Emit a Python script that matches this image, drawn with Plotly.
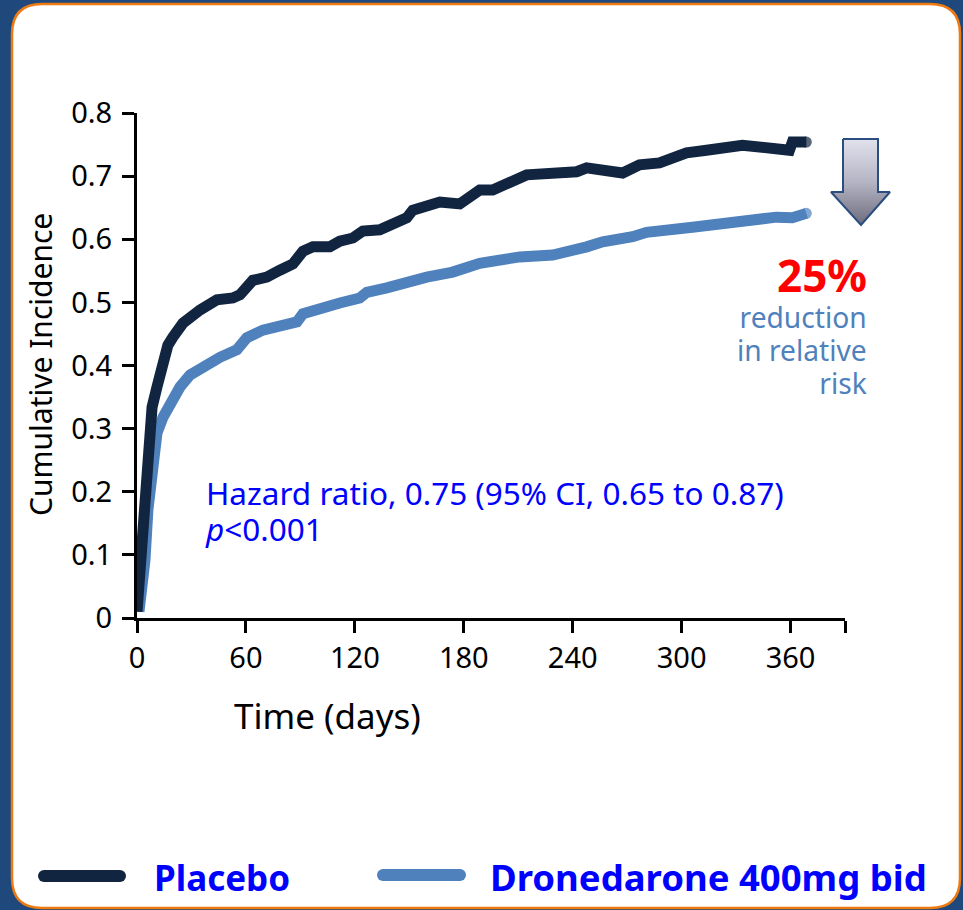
import plotly.graph_objects as go

W, H = 963, 910
FONT = "Noto Sans"

# Kaplan-Meier style cumulative incidence, days vs. proportion
placebo_days = [0, 0.5, 1.7, 3.3, 5, 5.5, 6.6, 8.3, 11, 13.2, 14.9, 17, 19.8, 25.3,
                34.7, 44, 52.8, 56.7, 63.8, 71.5, 78.7, 85.9, 91.4, 96.9, 106.2, 111.7,
                118.9, 124.4, 133.7, 140.9, 148.6, 151.9, 159.6, 166.8, 177.8, 184.9,
                188.8, 195.9, 205.3, 214.6, 242.2, 247.7, 267.5, 276.8, 287.8, 302.7,
                313.7, 333.5, 359.4, 361, 368.7]
placebo_inc = [0.01, 0.03, 0.092, 0.166, 0.219, 0.282, 0.306, 0.334, 0.366, 0.393, 0.421,
               0.432, 0.445, 0.467, 0.488, 0.504, 0.507, 0.512, 0.535, 0.54, 0.551, 0.561,
               0.581, 0.588, 0.588, 0.597, 0.602, 0.613, 0.615, 0.626, 0.634, 0.646, 0.654,
               0.659, 0.656, 0.672, 0.678, 0.678, 0.689, 0.702, 0.707, 0.713, 0.705, 0.718,
               0.721, 0.737, 0.741, 0.749, 0.741, 0.754, 0.754]

drone_days = [1.1, 2.2, 4.4, 6, 7.2, 8.8, 11, 14.3, 18.2, 23.7, 29.2, 36.3, 45.7, 55,
              60.5, 69.3, 78.7, 88.1, 91.4, 100.7, 111.7, 122.7, 126.6, 137.6, 148.6,
              159.6, 173.9, 188.8, 210.8, 229, 247.7, 256.5, 273, 280.7, 306, 324.7,
              352.2, 361, 368.7]
drone_inc = [0.01, 0.036, 0.092, 0.171, 0.208, 0.25, 0.293, 0.318, 0.341, 0.366, 0.385,
             0.398, 0.413, 0.425, 0.444, 0.456, 0.461, 0.469, 0.482, 0.488, 0.499, 0.507,
             0.516, 0.523, 0.532, 0.54, 0.548, 0.562, 0.572, 0.575, 0.588, 0.596, 0.604,
             0.611, 0.619, 0.627, 0.635, 0.634, 0.641]

x_tick_vals = [0, 60, 120, 180, 240, 300, 360, 390]
x_tick_text = ["0", "60", "120", "180", "240", "300", "360", ""]
y_tick_vals = [0, 0.1, 0.2, 0.3, 0.4, 0.5, 0.6, 0.7, 0.8]
y_tick_text = ["0", "0.1", "0.2", "0.3", "0.4", "0.5", "0.6", "0.7", "0.8"]

series_names = ["Placebo", "Dronedarone 400mg bid"]
DARK = "#112540"
LIGHT = "#4F81BD"
BG_BLUE = "#1F497D"
ORANGE = "#EE7A12"
TEXT_BLUE = "#0000FF"
LW = 11

# plot area in pixels
PL, PR, PT, PB = 137, 845, 113, 618


def px(x):
    return x / W


def py(y):
    return 1 - y / H


fig = go.Figure()


def cap_sizes(n, s):
    # marker only on the final point -> rounded line end
    return [0] * (n - 1) + [s]


fig.add_trace(go.Scatter(
    x=drone_days, y=drone_inc, mode="lines+markers", name=series_names[1],
    line=dict(color=LIGHT, width=LW),
    marker=dict(color=LIGHT, size=cap_sizes(len(drone_days), LW), line=dict(width=0)),
    showlegend=False, hoverinfo="skip"))
fig.add_trace(go.Scatter(
    x=placebo_days, y=placebo_inc, mode="lines+markers", name=series_names[0],
    line=dict(color=DARK, width=LW),
    marker=dict(color=DARK, size=cap_sizes(len(placebo_days), LW), line=dict(width=0)),
    showlegend=False, hoverinfo="skip"))

# decorative down arrow (pixel overlay axes)
arrow_x = [843, 878, 878, 890, 861, 831, 843, 843]
arrow_y = [139, 139, 192, 192, 225, 192, 192, 139]
fig.add_trace(go.Scatter(
    x=arrow_x, y=arrow_y, xaxis="x2", yaxis="y2", mode="lines", fill="toself",
    fillgradient=dict(type="vertical", start=139, stop=225,
                      colorscale=[[0, "#E2E2EE"], [0.5, "#B4B4C4"], [1, "#6C6C7E"]]),
    line=dict(color="#2A4E7F", width=2), showlegend=False, hoverinfo="skip"))

# legend samples
for (x0, x1, y0), col in [((44, 120, 876), DARK), ((383, 460, 875), LIGHT)]:
    fig.add_trace(go.Scatter(
        x=[x0, x1], y=[y0, y0], xaxis="x2", yaxis="y2", mode="lines+markers",
        line=dict(color=col, width=12), marker=dict(color=col, size=12, line=dict(width=0)),
        showlegend=False, hoverinfo="skip"))


def rounded_rect(x0, y0, x1, y1, r):
    # pixel corners -> paper coordinates path
    X = px
    Y = py
    return (f"M {X(x0+r)},{Y(y0)} L {X(x1-r)},{Y(y0)} Q {X(x1)},{Y(y0)} {X(x1)},{Y(y0+r)} "
            f"L {X(x1)},{Y(y1-r)} Q {X(x1)},{Y(y1)} {X(x1-r)},{Y(y1)} L {X(x0+r)},{Y(y1)} "
            f"Q {X(x0)},{Y(y1)} {X(x0)},{Y(y1-r)} L {X(x0)},{Y(y0+r)} Q {X(x0)},{Y(y0)} {X(x0+r)},{Y(y0)} Z")


shapes = [dict(type="path", xref="paper", yref="paper", layer="below",
               path=rounded_rect(12, 4, 960, 908, 30),
               fillcolor="white", line=dict(color=ORANGE, width=2.5))]

ann = []


def txt(x, y, s, size, color, xanchor="left", yanchor="middle", bold=False,
        textangle=0, align="left"):
    ann.append(dict(x=px(x), y=py(y), xref="paper", yref="paper",
                    text=(f"<b>{s}</b>" if bold else s), align=align,
                    showarrow=False, xanchor=xanchor, yanchor=yanchor, textangle=textangle,
                    font=dict(family=FONT, size=size, color=color)))


def sized(s, size, color=None):
    col = f"color:{color};" if color else ""
    return f'<span style="font-size:{size}px;{col}">{s}</span>'


txt(40, 365, "Cumulative Incidence", 30, "black", xanchor="center", textangle=-90)
txt(327, 715, "Time (days)", 35, "black", xanchor="center")

# hazard ratio block: base size sets the line pitch, spans set glyph size
hr_lines = ["Hazard ratio, 0.75 (95% CI, 0.65 to 0.87)", "<i>p</i>&lt;0.001"]
txt(203, 469, "<br>".join(sized(s, 31.5) for s in hr_lines), 27.7, TEXT_BLUE,
    yanchor="top")

# relative risk reduction
txt(869, 275, "25%", 44, "#FF0000", xanchor="right", bold=True)
rr_lines = ["reduction", "in relative", "risk"]
txt(869, 350, "<br>".join(sized(s, 28.2) for s in rr_lines), 25.4, LIGHT,
    xanchor="right", align="right")

txt(152, 877, series_names[0], 35, TEXT_BLUE, bold=True)
txt(488, 877, series_names[1], 36.5, TEXT_BLUE, bold=True)

fig.update_layout(
    template="none",
    width=W, height=H, autosize=False,
    margin=dict(l=0, r=0, t=0, b=0, pad=0, autoexpand=False),
    paper_bgcolor=BG_BLUE, plot_bgcolor="rgba(0,0,0,0)",
    showlegend=False,
    shapes=shapes, annotations=ann,
    xaxis=dict(domain=[PL / W, PR / W], range=[0, 390], tickvals=x_tick_vals,
               ticktext=x_tick_text, ticks="outside", ticklen=12, tickwidth=3,
               tickcolor="black", showline=True, linewidth=3, linecolor="black",
               showgrid=False, zeroline=False, ticklabelstandoff=0, automargin=False,
               tickfont=dict(family=FONT, size=29, color="black"), fixedrange=True),
    yaxis=dict(domain=[1 - PB / H, 1 - PT / H], range=[0, 0.8], tickvals=y_tick_vals,
               ticktext=y_tick_text, ticks="outside", ticklen=12, tickwidth=3,
               tickcolor="black", showline=True, linewidth=3, linecolor="black",
               showgrid=False, zeroline=False, ticklabelstandoff=4, automargin=False,
               tickfont=dict(family=FONT, size=29, color="black"), fixedrange=True),
    xaxis2=dict(domain=[0, 1], range=[0, W], visible=False, anchor="y2", fixedrange=True,
                automargin=False),
    yaxis2=dict(domain=[0, 1], range=[H, 0], visible=False, anchor="x2", fixedrange=True,
                automargin=False),
)

fig.write_html("out.html")
